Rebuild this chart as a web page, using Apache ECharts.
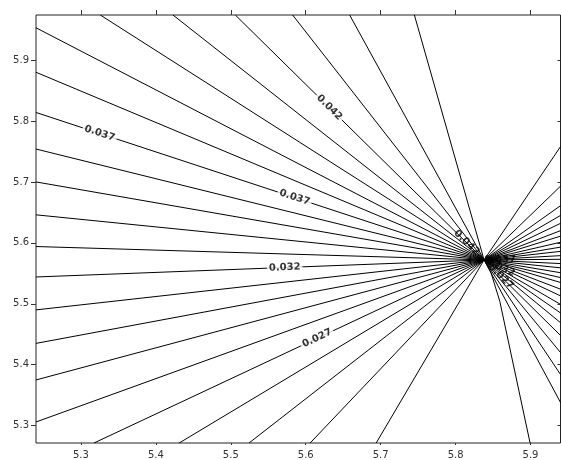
<!DOCTYPE html>
<html>
<head>
<meta charset="utf-8">
<script src="https://cdn.jsdelivr.net/npm/echarts@6/dist/echarts.min.js"></script>
<style>
html,body{margin:0;padding:0;background:#fff;}
#chart{width:561px;height:460px;}
</style>
</head>
<body>
<div id="chart"></div>
<script>
// ---- data ----
const xTicks = [5.3, 5.4, 5.5, 5.6, 5.7, 5.8, 5.9];
const yTicks = [5.3, 5.4, 5.5, 5.6, 5.7, 5.8, 5.9];
const xRange = [5.24, 5.94];
const yRange = [5.2715, 5.974];
// point where all contour lines converge
const centerPoint = [5.838, 5.572];
// contour ends on the left edge (y values)
const leftEdgeY = [5.953, 5.880, 5.814, 5.754, 5.700, 5.646, 5.594, 5.544, 5.490, 5.435, 5.375, 5.306];
// contour ends on the top edge (x values)
const topEdgeX = [5.3258, 5.4228, 5.506, 5.5825, 5.6586, 5.745];
// contour ends on the bottom edge, left of the centre (x values)
const bottomEdgeX = [5.3174, 5.4311, 5.5243, 5.6059, 5.694];
// contour ends on the right edge (y values)
const rightEdgeY = [5.758, 5.693, 5.661, 5.645, 5.632, 5.620, 5.611, 5.601, 5.593, 5.586, 5.579, 5.573, 5.566,
  5.559, 5.551, 5.543, 5.535, 5.524, 5.513, 5.499, 5.485, 5.469, 5.448, 5.420, 5.384, 5.338];
// the one contour reaching the bottom edge right of the centre (x, y path toward centre)
const bottomRightPathX = [5.8994, 5.859, 5.847];
const bottomRightPathY = [5.2715, 5.504, 5.552];
// contour labels: text, the line they sit on, fraction along that line (edge -> centre)
const labelText = ['0.042', '0.037', '0.037', '0.032', '0.027', '0.042', '0.037', '0.032', '0.027'];
const labelLine = ['top2', 'left2', 'left2', 'left7', 'bottom0', 'top2', 'right11', 'right18', 'right22'];
const labelFrac = [0.378, 0.142, 0.577, 0.555, 0.572, 0.93, 0.79, 0.79, 0.78];

// ---- build contour paths ----
const paths = {};
leftEdgeY.forEach((y, i) => { paths['left' + i] = [[xRange[0], y], centerPoint]; });
topEdgeX.forEach((x, i) => { paths['top' + i] = [[x, yRange[1]], centerPoint]; });
bottomEdgeX.forEach((x, i) => { paths['bottom' + i] = [[x, yRange[0]], centerPoint]; });
rightEdgeY.forEach((y, i) => { paths['right' + i] = [[xRange[1], y], centerPoint]; });
paths['bottomRight'] = bottomRightPathX.map((x, i) => [x, bottomRightPathY[i]]).concat([centerPoint]);

const lineData = Object.keys(paths).map(k => ({ coords: paths[k] }));

function pointAlong(path, t) {
  let total = 0, segs = [];
  for (let i = 0; i < path.length - 1; i++) {
    const d = Math.hypot(path[i + 1][0] - path[i][0], path[i + 1][1] - path[i][1]);
    segs.push(d); total += d;
  }
  let target = t * total;
  for (let i = 0; i < segs.length; i++) {
    if (target <= segs[i] || i === segs.length - 1) {
      const f = segs[i] ? target / segs[i] : 0;
      return { p: [path[i][0] + f * (path[i + 1][0] - path[i][0]), path[i][1] + f * (path[i + 1][1] - path[i][1])], a: path[i], b: path[i + 1] };
    }
    target -= segs[i];
  }
}

const FONT = 'DejaVu Sans';
const chart = echarts.init(document.getElementById('chart'), null, { renderer: 'canvas' });

const baseOption = {
  animation: false,
  backgroundColor: '#fff',
  grid: { left: 36, right: 0.5, top: 15, bottom: 16, show: true, borderColor: '#222', borderWidth: 1, backgroundColor: 'transparent' },
  xAxis: [
    { type: 'value', position: 'bottom', min: xRange[0], max: xRange[1],
      axisLine: { show: false }, splitLine: { show: false },
      axisTick: { show: true, length: 2, customValues: xTicks, lineStyle: { color: '#333' } },
      axisLabel: { customValues: xTicks, margin: 7, color: '#333', fontFamily: FONT, fontSize: 10, formatter: v => v.toFixed(1) } },
    { type: 'value', position: 'top', min: xRange[0], max: xRange[1],
      axisLine: { show: false }, splitLine: { show: false },
      axisTick: { show: true, length: 5, customValues: xTicks, lineStyle: { color: '#333' } },
      axisLabel: { show: false } }
  ],
  yAxis: [
    { type: 'value', position: 'left', min: yRange[0], max: yRange[1],
      axisLine: { show: false }, splitLine: { show: false },
      axisTick: { show: true, length: 5, customValues: yTicks, lineStyle: { color: '#333' } },
      axisLabel: { customValues: yTicks, margin: 7, color: '#333', fontFamily: FONT, fontSize: 10, formatter: v => v.toFixed(1) } },
    { type: 'value', position: 'right', min: yRange[0], max: yRange[1],
      axisLine: { show: false }, splitLine: { show: false },
      axisTick: { show: true, inside: true, length: 3, customValues: yTicks, lineStyle: { color: '#333' } },
      axisLabel: { show: false } }
  ],
  series: [
    { type: 'lines', coordinateSystem: 'cartesian2d', xAxisIndex: 0, yAxisIndex: 0, polyline: true, silent: true,
      lineStyle: { color: '#000', width: 1, opacity: 1 }, data: lineData, z: 2 }
  ]
};
chart.setOption(baseOption);

const cPx = chart.convertToPixel({ gridIndex: 0 }, centerPoint);
// labels: rotation follows the line direction in screen space
const labelData = labelText.map((txt, i) => {
  const r = pointAlong(paths[labelLine[i]], labelFrac[i]);
  const pa = chart.convertToPixel({ gridIndex: 0 }, r.a);
  const pb = chart.convertToPixel({ gridIndex: 0 }, r.b);
  const pp = chart.convertToPixel({ gridIndex: 0 }, r.p);
  let ang = -Math.atan2(pb[1] - pa[1], pb[0] - pa[0]) * 180 / Math.PI;
  while (ang > 90) ang -= 180;
  while (ang <= -90) ang += 180;
  const crowded = Math.hypot(pp[0] - cPx[0], pp[1] - cPx[1]) < 40;
  return { value: r.p, name: txt, label: { rotate: ang, backgroundColor: crowded ? 'transparent' : '#fff' } };
});

chart.setOption({
  series: [
    baseOption.series[0],
    { type: 'scatter', xAxisIndex: 0, yAxisIndex: 0, symbolSize: 0, silent: true, z: 5, data: labelData,
      label: { show: true, position: 'inside', formatter: p => p.name, color: '#000', fontFamily: FONT, fontSize: 10, fontWeight: 'bold',
        backgroundColor: '#fff', padding: [0, 2] } }
  ]
});
</script>
</body>
</html>
